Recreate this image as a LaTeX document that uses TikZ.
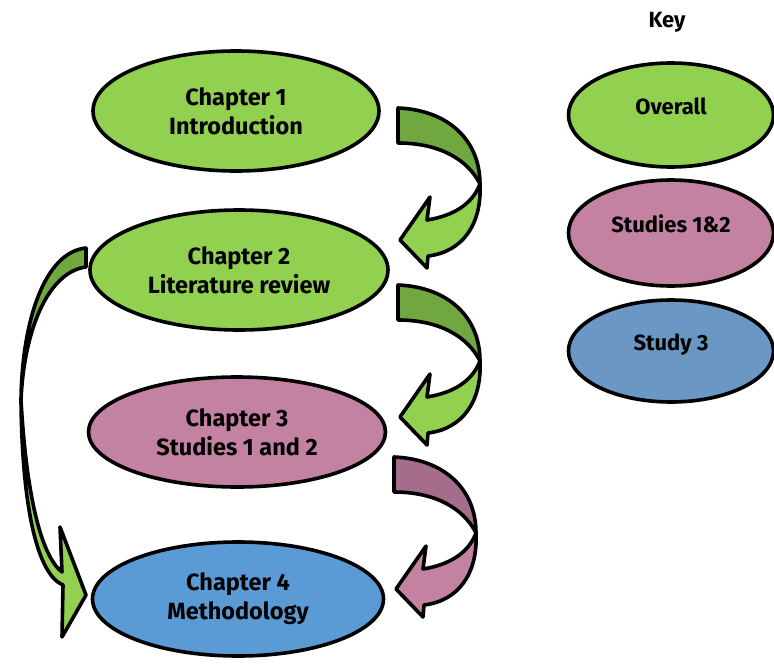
\documentclass[tikz,border=0pt]{standalone}
\usepackage{fontspec}
\setmainfont{Fira Sans}
\usetikzlibrary{shapes.geometric}
\definecolor{gl}{HTML}{92D050}
\definecolor{gd}{HTML}{70A83F}
\definecolor{pk}{HTML}{C382A2}
\definecolor{pd}{HTML}{A66C8C}
\definecolor{bl}{HTML}{5B9BD5}
\definecolor{bk}{HTML}{6A97C3}
\tikzset{
  chap/.style={ellipse,draw=black,line width=3.6pt,align=center,inner sep=0pt,
    font=\fontsize{23.5}{29}\selectfont\bfseries},
  keyell/.style={ellipse,draw=black,line width=3.6pt,align=center,inner sep=0pt,
    text depth=18pt,font=\fontsize{22}{24}\selectfont\bfseries},
  blk/.style={draw=black,line width=3.6pt,line join=round}
}
\begin{document}
\begin{tikzpicture}[x=1pt,y=-1pt]
\useasboundingbox (0,0) rectangle (774,664);
% chapters
\node[chap,fill=gl,minimum width=286pt,minimum height=120pt] (c1) at (236,111) {Chapter 1\\Introduction};
\node[chap,fill=gl,minimum width=298pt,minimum height=120pt] (c2) at (239,270) {Chapter 2\\Literature review};
\node[chap,fill=pk,minimum width=297pt,minimum height=110pt] (c3) at (237,432) {Chapter 3\\Studies 1 and 2};
\node[chap,fill=bl,minimum width=291pt,minimum height=114pt] (c4) at (238,599) {Chapter 4\\Methodology};
% key
\node[font=\fontsize{22}{24}\selectfont\bfseries] (key) at (667,22) {Key};
\node[keyell,fill=gl,minimum width=205pt,minimum height=104pt] (k1) at (671,115) {Overall};
\node[keyell,fill=pk,minimum width=205pt,minimum height=106pt] (k2) at (671,233) {Studies 1\&2};
\node[keyell,fill=bk,minimum width=205pt,minimum height=102pt] (k3) at (671,351) {Study 3};
% curved arrows
\foreach \dx/\dy/\cd/\cl in {0/0/gd/gl, 0/177/gd/gl, -4/349/pd/pk}{
\begin{scope}[shift={(\dx,\dy)}]
\draw[blk,fill=\cd] (398,108) .. controls (448,110) and (480,140) .. (480,184)
   .. controls (468,160) and (440,143) .. (398,143) -- cycle;
\draw[blk,fill=\cl] (480,184) .. controls (482,225) and (462,252) .. (428,256)
   -- (427,268) -- (400,240) -- (430,197) -- (427,220)
   .. controls (452,216) and (472,205) .. (480,184) -- cycle;
\end{scope}}
% long arrow
\draw[blk,fill=gd] (86,248) .. controls (45,252) and (22,320) .. (21,400)
   .. controls (24,330) and (48,272) .. (86,267) -- cycle;
\draw[blk,fill=gl] (21,400) .. controls (22,510) and (38,575) .. (63,585)
   -- (62,637) -- (86,595) -- (60,527) -- (62,572)
   .. controls (40,555) and (26,490) .. (21,400) -- cycle;
\end{tikzpicture}
\end{document}
